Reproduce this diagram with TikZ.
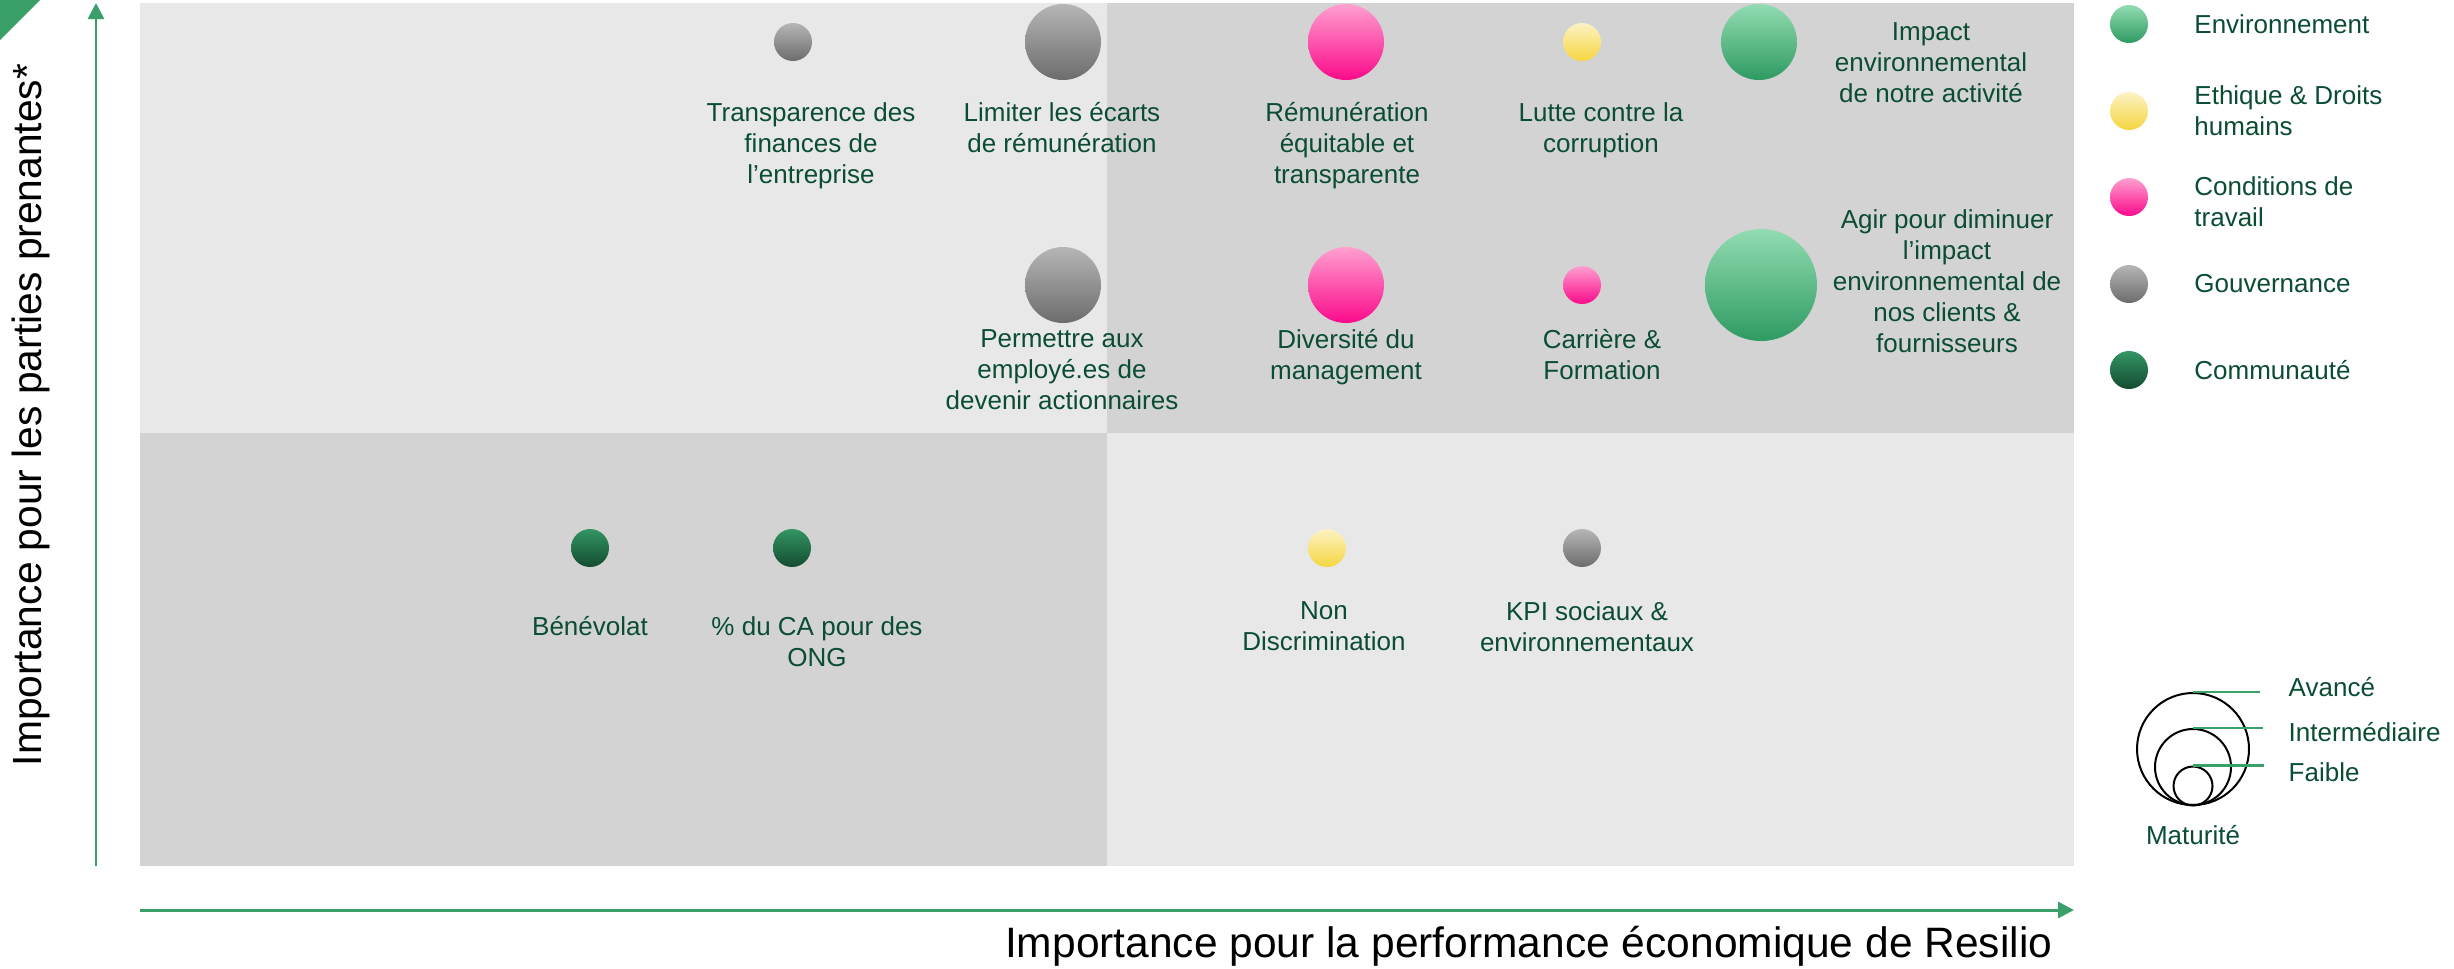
\documentclass[tikz,border=0pt]{standalone}
\usepackage{fontspec}
\setmainfont{Liberation Sans}
\usetikzlibrary{positioning, arrows.meta}

\definecolor{textGreen}{RGB}{11,77,51}
\definecolor{axisGreen}{RGB}{58,160,106}
\definecolor{quadLight}{RGB}{232,232,232}
\definecolor{quadDark}{RGB}{211,211,211}
\definecolor{envTop}{RGB}{146,220,178}
\definecolor{envBot}{RGB}{46,154,98}
\definecolor{ethTop}{RGB}{253,242,196}
\definecolor{ethBot}{RGB}{245,214,64}
\definecolor{travTop}{RGB}{255,160,208}
\definecolor{travBot}{RGB}{250,10,138}
\definecolor{govTop}{RGB}{182,182,182}
\definecolor{govBot}{RGB}{108,108,108}
\definecolor{comTop}{RGB}{50,150,100}
\definecolor{comBot}{RGB}{20,75,48}

\begin{document}
\begin{tikzpicture}[x=0.1mm, y=-0.1mm, node distance=1mm,
    bubble/.style={circle, inner sep=0pt, minimum size=#1},
    env/.style={top color=envTop, bottom color=envBot},
    eth/.style={top color=ethTop, bottom color=ethBot},
    trav/.style={top color=travTop, bottom color=travBot},
    gov/.style={top color=govTop, bottom color=govBot},
    com/.style={top color=comTop, bottom color=comBot},
    txt/.style={text=textGreen, font=\fontsize{7.4pt}{8.8pt}\selectfont, align=center, inner sep=0pt},
    axisLine/.style={axisGreen, line width=0.25mm, -{Triangle[length=1.6mm, width=1.6mm]}},
    matCircle/.style={circle, draw=black, line width=0.2mm, inner sep=0pt, minimum size=#1},
    matLine/.style={axisGreen, line width=0.27mm}]
    \useasboundingbox (0,0) rectangle (2454,968);

    % quadrants
    \fill[quadLight] (140,3) rectangle (1107,433);
    \fill[quadDark] (1107,3) rectangle (2074,433);
    \fill[quadDark] (140,433) rectangle (1107,866);
    \fill[quadLight] (1107,433) rectangle (2074,866);
    \fill[axisGreen] (0,0) -- (40,0) -- (0,40) -- cycle;

    % axes
    \coordinate (origin) at (96,866);
    \coordinate (yTip) at (96,3);
    \coordinate (xStart) at (140,910);
    \coordinate (xTip) at (2074,910);
    \draw[axisLine] (origin) -- (yTip);
    \draw[axisLine, line width=0.3mm] (xStart) -- (xTip);
    \node[rotate=90, anchor=east, inner sep=0pt, font=\fontsize{11.6pt}{13pt}\selectfont] (yTitle) at (31,63) {Importance pour les parties prenantes*};
    \node[anchor=base east, inner sep=0pt, font=\fontsize{12.1pt}{14pt}\selectfont] (xTitle) at (2053,957) {Importance pour la performance économique de Resilio};

    % bubbles
    \node[bubble=3.8mm, gov] (transparence) at (793,42) {};
    \node[bubble=7.6mm, gov] (limiterEcarts) at (1063,42) {};
    \node[bubble=7.6mm, trav] (remuneration) at (1346,42) {};
    \node[bubble=3.8mm, eth] (lutteCorruption) at (1582,42) {};
    \node[bubble=7.6mm, env] (impactActivite) at (1759,42) {};
    \node[bubble=7.6mm, gov] (actionnaires) at (1063,285) {};
    \node[bubble=7.6mm, trav] (diversite) at (1346,285) {};
    \node[bubble=3.8mm, trav] (carriere) at (1582,285) {};
    \node[bubble=11.2mm, env] (agirImpact) at (1761,285) {};
    \node[bubble=3.8mm, com] (benevolat) at (590,548) {};
    \node[bubble=3.8mm, com] (dons) at (792,548) {};
    \node[bubble=3.8mm, eth] (nonDiscrimination) at (1327,548) {};
    \node[bubble=3.8mm, gov] (kpi) at (1582,548) {};

    % labels
    \node[txt, anchor=north] (transparenceTxt) at (811,102) {Transparence des\\finances de\\l’entreprise};
    \node[txt, anchor=north] (limiterEcartsTxt) at (1062,102) {Limiter les écarts\\de rémunération};
    \node[txt, anchor=north] (remunerationTxt) at (1347,102) {Rémunération\\équitable et\\transparente};
    \node[txt, anchor=north] (lutteCorruptionTxt) at (1601,102) {Lutte contre la\\corruption};
    \node[txt, anchor=north] (impactActiviteTxt) at (1931,22) {Impact\\environnemental\\de notre activité};
    \node[txt, anchor=north] (actionnairesTxt) at (1062,329) {Permettre aux\\employé.es de\\devenir actionnaires};
    \node[txt, anchor=north] (diversiteTxt) at (1346,329) {Diversité du\\management};
    \node[txt, anchor=north] (carriereTxt) at (1602,329) {Carrière \&\\Formation};
    \node[txt, anchor=north] (agirImpactTxt) at (1947,209) {Agir pour diminuer\\l’impact\\environnemental de\\nos clients \&\\fournisseurs};
    \node[txt, anchor=north] (benevolatTxt) at (590,616) {Bénévolat};
    \node[txt, anchor=north] (donsTxt) at (817,616) {\% du CA pour des\\ONG};
    \node[txt, anchor=north] (nonDiscriminationTxt) at (1324,601) {Non\\Discrimination};
    \node[txt, anchor=north] (kpiTxt) at (1587,601) {KPI sociaux \&\\environnementaux};

    % legend
    \node[bubble=3.8mm, env] (envDot) at (2129,24) {};
    \node[bubble=3.8mm, eth] (ethDot) at (2129,111) {};
    \node[bubble=3.8mm, trav] (travDot) at (2129,197) {};
    \node[bubble=3.8mm, gov] (govDot) at (2129,284) {};
    \node[bubble=3.8mm, com] (comDot) at (2129,370) {};
    \node[txt, align=left, right = 4.5mm of envDot] (envTxt) {Environnement};
    \node[txt, align=left, right = 4.5mm of ethDot] (ethTxt) {Ethique \& Droits\\humains};
    \node[txt, align=left, right = 4.5mm of travDot, yshift=-0.5mm] (travTxt) {Conditions de\\travail};
    \node[txt, align=left, right = 4.5mm of govDot] (govTxt) {Gouvernance};
    \node[txt, align=left, right = 4.5mm of comDot] (comTxt) {Communauté};

    % maturity
    \node[matCircle=11.2mm] (matAvance) at (2193,749) {};
    \node[matCircle=7.6mm] (matInter) at (2193,767) {};
    \node[matCircle=3.9mm] (matFaible) at (2193,786) {};
    \node[txt, anchor=west] (avanceTxt) at (2288,687) {Avancé};
    \node[txt, anchor=west] (interTxt) at (2288,732) {Intermédiaire};
    \node[txt, anchor=west] (faibleTxt) at (2288,772) {Faible};
    \node[txt] (maturiteTxt) at (2193,835) {Maturité};
    \draw[matLine, shorten >=2.8mm] (matAvance.north) -- (matAvance.north -| avanceTxt.west);
    \draw[matLine, shorten >=2.5mm] (matInter.north) -- (matInter.north -| interTxt.west);
    \draw[matLine, shorten >=2.4mm] (matFaible.north) -- (matFaible.north -| faibleTxt.west);
\end{tikzpicture}
\end{document}
